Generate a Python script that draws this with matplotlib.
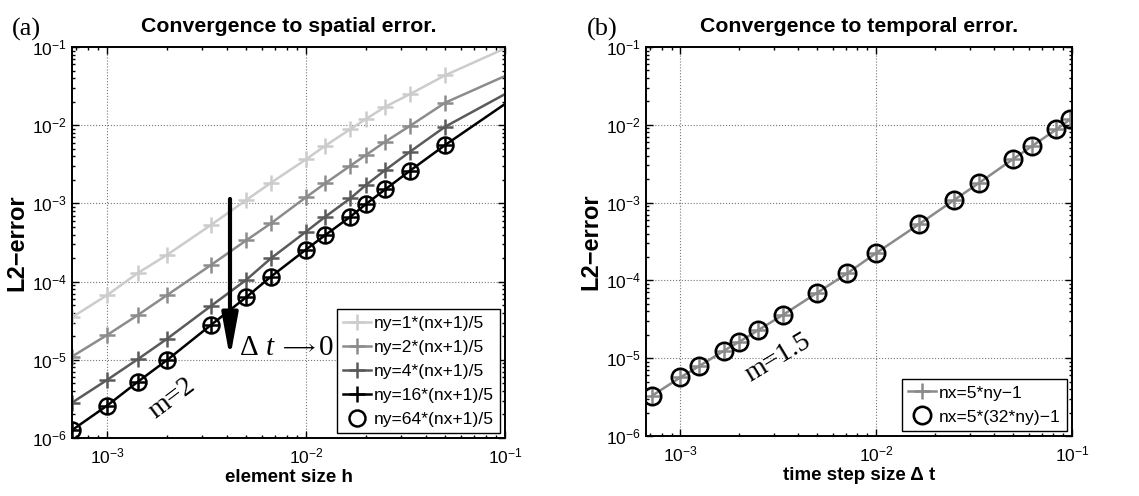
import matplotlib
matplotlib.use("Agg")
import matplotlib.pyplot as plt
from matplotlib.ticker import LogLocator, NullFormatter

plt.rcParams['font.family'] = ['Liberation Sans', 'DejaVu Sans']
plt.rcParams['mathtext.fontset'] = 'custom'
plt.rcParams['mathtext.rm'] = 'Liberation Serif'
plt.rcParams['mathtext.it'] = 'Liberation Serif:italic'
plt.rcParams['mathtext.bf'] = 'Liberation Serif:bold'

# ---------------- data: panel (a) ----------------
h = [6.67e-4, 1.0e-3, 1.43e-3, 2.0e-3, 3.33e-3, 5.0e-3, 6.67e-3, 1.0e-2,
     1.25e-2, 1.67e-2, 2.0e-2, 2.5e-2, 3.33e-2, 5.0e-2, 1.0e-1]
err_ny1 = [3.5e-5, 6.7e-5, 1.29e-4, 2.19e-4, 5.3e-4, 1.10e-3, 1.84e-3, 3.66e-3,
           5.47e-3, 8.9e-3, 1.20e-2, 1.72e-2, 2.5e-2, 4.35e-2, 9.6e-2]
err_ny2 = [1.10e-5, 2.07e-5, 3.74e-5, 6.7e-5, 1.63e-4, 3.36e-4, 5.57e-4, 1.20e-3,
           1.81e-3, 3.03e-3, 4.16e-3, 6.15e-3, 9.8e-3, 1.94e-2, 4.26e-2]
err_ny4 = [2.83e-6, 5.52e-6, 1.02e-5, 1.85e-5, 4.88e-5, 1.05e-4, 1.99e-4, 4.35e-4,
           6.76e-4, 1.16e-3, 1.72e-3, 2.67e-3, 4.58e-3, 9.57e-3, 2.5e-2]
err_ny16 = [1.26e-6, 2.59e-6, 5.25e-6, 9.9e-6, 2.79e-5, 6.3e-5, 1.16e-4, 2.57e-4,
            3.94e-4, 6.76e-4, 9.8e-4, 1.51e-3, 2.62e-3, 5.58e-3, 1.87e-2]
h_ny64 = [6.67e-4, 1.0e-3, 1.43e-3, 2.0e-3, 3.33e-3, 5.0e-3, 6.67e-3, 1.0e-2,
          1.25e-2, 1.67e-2, 2.0e-2, 2.5e-2, 3.33e-2, 5.0e-2]
err_ny64 = [1.26e-6, 2.59e-6, 5.25e-6, 9.9e-6, 2.79e-5, 6.3e-5, 1.16e-4, 2.57e-4,
            3.94e-4, 6.76e-4, 9.8e-4, 1.51e-3, 2.62e-3, 5.58e-3]
labels_a = ['ny=1*(nx+1)/5', 'ny=2*(nx+1)/5', 'ny=4*(nx+1)/5',
            'ny=16*(nx+1)/5', 'ny=64*(nx+1)/5']
colors_a = ['#cccccc', '#8c8c8c', '#5a5a5a', '#000000']

# ---------------- data: panel (b) ----------------
dt = [7.17e-4, 1.0e-3, 1.25e-3, 1.66e-3, 2.0e-3, 2.5e-3, 3.33e-3, 5.0e-3, 7.1e-3,
      1.0e-2, 1.66e-2, 2.5e-2, 3.33e-2, 5.0e-2, 6.25e-2, 8.33e-2, 9.8e-2]
err_b1 = [3.3e-6, 5.68e-6, 7.94e-6, 1.24e-5, 1.63e-5, 2.30e-5, 3.59e-5, 6.95e-5,
          1.23e-4, 2.25e-4, 5.31e-4, 1.08e-3, 1.77e-3, 3.63e-3, 5.34e-3, 8.75e-3, 1.18e-2]
err_b32 = [3.3e-6, 5.68e-6, 7.94e-6, 1.24e-5, 1.63e-5, 2.30e-5, 3.59e-5, 6.95e-5,
           1.23e-4, 2.25e-4, 5.31e-4, 1.08e-3, 1.77e-3, 3.63e-3, 5.34e-3, 8.75e-3, 1.18e-2]
labels_b = ['nx=5*ny−1', 'nx=5*(32*ny)−1']

fig = plt.figure(figsize=(11.39, 4.96), dpi=100)
axa = fig.add_axes([0.0632, 0.1169, 0.3802, 0.7883])
axb = fig.add_axes([0.5672, 0.121, 0.374, 0.7842])


def style_axis(ax):
    ax.set_xscale('log')
    ax.set_yscale('log')
    ax.set_xlim(6.67e-4, 1e-1)
    ax.set_ylim(1e-6, 1e-1)
    ax.xaxis.set_major_locator(LogLocator(base=10, numticks=10))
    ax.yaxis.set_major_locator(LogLocator(base=10, numticks=10))
    ax.xaxis.set_minor_locator(LogLocator(base=10, subs=range(2, 10), numticks=20))
    ax.yaxis.set_minor_locator(LogLocator(base=10, subs=range(2, 10), numticks=20))
    ax.xaxis.set_minor_formatter(NullFormatter())
    ax.yaxis.set_minor_formatter(NullFormatter())
    ax.tick_params(which='both', direction='in', top=True, right=True,
                   labelsize=12.5, width=1.0)
    ax.tick_params(which='major', length=5)
    ax.tick_params(which='minor', length=2.5)
    ax.tick_params(axis='x', pad=6)
    for s in ax.spines.values():
        s.set_linewidth(1.4)
    ax.grid(True, which='major', linestyle=':', color='#777777', linewidth=0.8)
    ax.set_axisbelow(True)


style_axis(axa)
style_axis(axb)

# panel (a)
series = [err_ny1, err_ny2, err_ny4, err_ny16]
for e, c, lab in zip(series, colors_a, labels_a[:4]):
    axa.plot(h, e, '-', color=c, lw=1.8, marker='+', ms=11, mew=1.8,
             markevery=list(range(len(h) - 1)), label=lab)
axa.plot(h_ny64, err_ny64, 'o', mfc='none', mec='k', ms=11.5, mew=1.8,
         linestyle='none', label=labels_a[4])

axa.annotate('', xy=(4.15e-3, 1.05e-5), xytext=(4.15e-3, 1.14e-3),
             arrowprops=dict(arrowstyle='-|>,head_length=1.3,head_width=0.24',
                             lw=3, color='k', shrinkA=0, shrinkB=0,
                             mutation_scale=20))
# "Δ t → 0" label built from pieces, anchored at one data point
anchor = (4.66e-3, 1.42e-5)
pieces = [('Δ', 0.0, 21), ('$t$', 18.0, 21), ('$\\longrightarrow$', 28.0, 15), ('0', 57.0, 21)]
for txt, dx, fs in pieces:
    axa.annotate(txt, xy=anchor, xytext=(dx, 0), textcoords='offset points',
                 fontsize=fs, family='Liberation Serif', ha='left', va='center')
axa.text(2.12e-3, 3.25e-6, 'm=2', fontsize=20, family='Liberation Serif',
         rotation=37, ha='center', va='center', rotation_mode='anchor')

axa.set_title('Convergence to spatial error.', fontsize=15.3, fontweight='bold', pad=11)
axa.set_xlabel('element size h', fontsize=13.5, fontweight='bold', labelpad=2)
axa.set_ylabel('L2−error', fontsize=17, fontweight='bold', labelpad=3)
leg = axa.legend(loc='lower right', fontsize=12.6, handlelength=1.6,
                 handletextpad=0.15, labelspacing=0.5, borderpad=0.35,
                 borderaxespad=0.3, fancybox=False, framealpha=1,
                 edgecolor='k', numpoints=1)
leg.get_frame().set_linewidth(1.0)
leg.set_zorder(5)

# panel (b)
axb.plot(dt, err_b1, '-', color='#8a8a8a', lw=1.8, marker='+', ms=11, mew=1.8,
         label=labels_b[0])
axb.plot(dt, err_b32, 'o', mfc='none', mec='k', ms=12.5, mew=1.9,
         linestyle='none', label=labels_b[1])
axb.text(3.16e-3, 1.0e-5, 'm=1.5', fontsize=20, family='Liberation Serif',
         rotation=31, ha='center', va='center', rotation_mode='anchor')
axb.set_title('Convergence to temporal error.', fontsize=15.3, fontweight='bold', pad=11)
axb.set_xlabel('time step size Δ t', fontsize=13.5, fontweight='bold', labelpad=2)
axb.set_ylabel('L2−error', fontsize=17, fontweight='bold', labelpad=3)
legb = axb.legend(loc='lower right', fontsize=12.6, handlelength=1.6,
                  handletextpad=0.15, labelspacing=0.5, borderpad=0.35,
                  borderaxespad=0.3, fancybox=False, framealpha=1,
                  edgecolor='k', numpoints=1)
legb.get_frame().set_linewidth(1.0)

fig.text(0.010, 0.94, '(a)', fontsize=19, family='Liberation Serif', ha='left', va='center')
fig.text(0.515, 0.94, '(b)', fontsize=19, family='Liberation Serif', ha='left', va='center')

fig.savefig('out.png', dpi=100)
